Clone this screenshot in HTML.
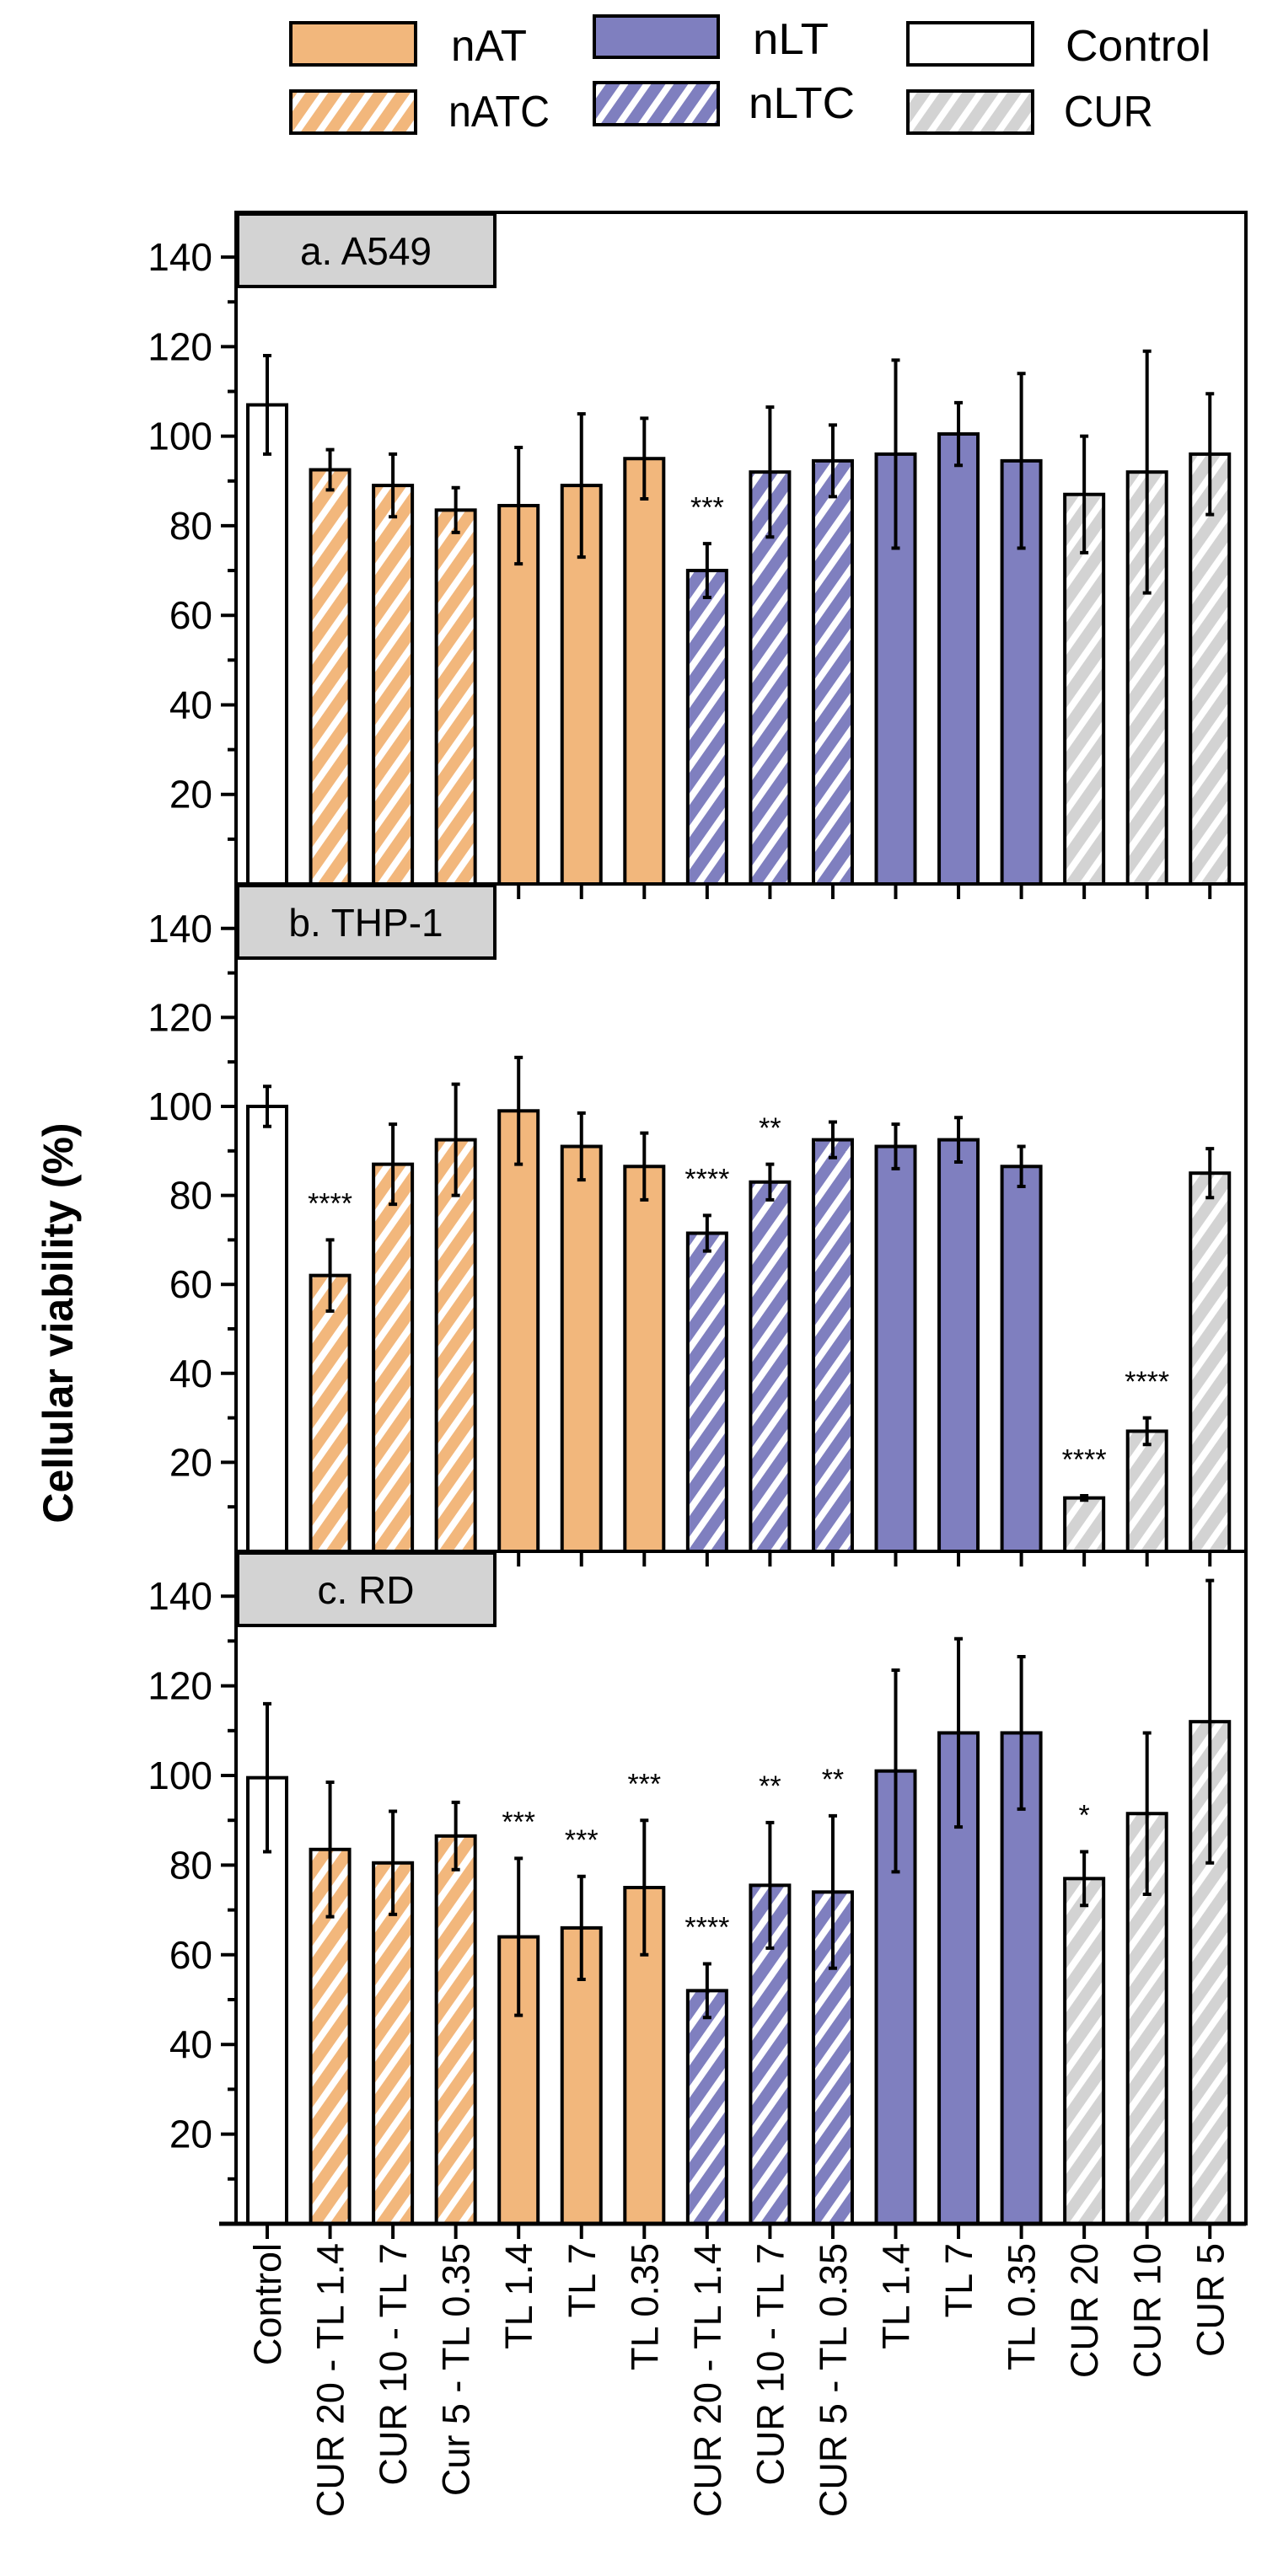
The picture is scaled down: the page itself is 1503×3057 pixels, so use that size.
<!DOCTYPE html>
<html><head><meta charset="utf-8"><style>
html,body{margin:0;padding:0;background:#fff;}
svg{display:block;font-family:"Liberation Sans",Arial,sans-serif;}
</style></head><body>
<svg id="chart" width="1503" height="3057" viewBox="0 0 1503 3057" xmlns="http://www.w3.org/2000/svg">
<defs>
<pattern id="hatchO" patternUnits="userSpaceOnUse" width="22" height="22" patternTransform="rotate(35)"><rect width="22" height="22" fill="#F2B77C"/><rect width="8" height="22" fill="#fff"/></pattern>
<pattern id="hatchP" patternUnits="userSpaceOnUse" width="22" height="22" patternTransform="rotate(35)"><rect width="22" height="22" fill="#7F7FBF"/><rect width="8" height="22" fill="#fff"/></pattern>
<pattern id="hatchG" patternUnits="userSpaceOnUse" width="22" height="22" patternTransform="rotate(35)"><rect width="22" height="22" fill="#D3D3D3"/><rect width="8" height="22" fill="#fff"/></pattern>
</defs>
<g id="legend">
<g><rect x="345" y="27" width="148" height="50" fill="#F2B77C" stroke="#000" stroke-width="4"/><text x="535" y="72" font-size="52" textLength="90" lengthAdjust="spacingAndGlyphs">nAT</text></g>
<g><rect x="705" y="19" width="147" height="49" fill="#7F7FBF" stroke="#000" stroke-width="4"/><text x="893" y="64" font-size="52" textLength="90" lengthAdjust="spacingAndGlyphs">nLT</text></g>
<g><rect x="1077" y="27" width="148" height="50" fill="#fff" stroke="#000" stroke-width="4"/><text x="1264" y="72" font-size="52" textLength="172" lengthAdjust="spacingAndGlyphs">Control</text></g>
<g><rect x="345" y="108" width="148" height="50" fill="url(#hatchO)" stroke="#000" stroke-width="4"/><text x="532" y="150" font-size="52" textLength="120" lengthAdjust="spacingAndGlyphs">nATC</text></g>
<g><rect x="705" y="98" width="147" height="50" fill="url(#hatchP)" stroke="#000" stroke-width="4"/><text x="888" y="140" font-size="52" textLength="126" lengthAdjust="spacingAndGlyphs">nLTC</text></g>
<g><rect x="1077" y="108" width="148" height="50" fill="url(#hatchG)" stroke="#000" stroke-width="4"/><text x="1262" y="150" font-size="52" textLength="106" lengthAdjust="spacingAndGlyphs">CUR</text></g>
</g>
<text x="0" y="0" transform="translate(86,1570) rotate(-90)" text-anchor="middle" font-size="50" font-weight="bold">Cellular viability (%)</text>
<g id="plots"></g>
</svg>
<script>
const categories = ["Control","CUR 20 - TL 1.4","CUR 10 - TL 7","Cur 5 - TL 0.35","TL 1.4","TL 7","TL 0.35","CUR 20 - TL 1.4","CUR 10 - TL 7","CUR 5 - TL 0.35","TL 1.4","TL 7","TL 0.35","CUR 20","CUR 10","CUR 5"];
const groups = ["ctrl","natc","natc","natc","nat","nat","nat","nltc","nltc","nltc","nlt","nlt","nlt","cur","cur","cur"];
const panelNames = ["a. A549","b. THP-1","c. RD"];
const yTicks = [20,40,60,80,100,120,140];
const valuesA = [107,92.5,89,83.5,84.5,89,95,70,92,94.5,96,100.5,94.5,87,92,96];
const errorsA = [11,4.5,7,5,13,16,9,6,14.5,8,21,7,19.5,13,27,13.5];
const starsA = ["","","","","","","","***","","","","","","","",""];
const valuesB = [100,62,87,92.5,99,91,86.5,71.5,83,92.5,91,92.5,86.5,12,27,85];
const errorsB = [4.5,8,9,12.5,12,7.5,7.5,4,4,4,5,5,4.5,0.5,3,5.5];
const starsB = ["","****","","","","","","****","**","","","","","****","****",""];
const valuesC = [99.5,83.5,80.5,86.5,64,66,75,52,75.5,74,101,109.5,109.5,77,91.5,112];
const errorsC = [16.5,15,11.5,7.5,17.5,11.5,15,6,14,17,22.5,21,17,6,18,31.5];
const starsC = ["","","","","***","***","***","****","**","**","","","","*","",""];

const NS="http://www.w3.org/2000/svg";
const plots=document.getElementById('plots');
const fills={ctrl:"#fff",nat:"#F2B77C",natc:"url(#hatchO)",nlt:"#7F7FBF",nltc:"url(#hatchP)",cur:"url(#hatchG)"};
const X0=280, X1=1478, YMAX=150;
const panels=[{top:252,bottom:1049},{top:1049,bottom:1841},{top:1841,bottom:2639}];
const dataSets=[[valuesA,errorsA,starsA],[valuesB,errorsB,starsB],[valuesC,errorsC,starsC]];
function xC(i){return 317+i*74.55;}
function mk(tag,attrs,parent){const e=document.createElementNS(NS,tag);for(const k in attrs)e.setAttribute(k,attrs[k]);(parent||plots).appendChild(e);return e;}

panels.forEach((p,pi)=>{
  const y=v=>p.bottom-(v/YMAX)*(p.bottom-p.top);
  const g=mk('g',{});
  
  
  const [vals,errs,stars]=dataSets[pi];
  vals.forEach((v,i)=>{
    const r=mk('rect',{x:xC(i)-23,y:y(v),width:46,height:p.bottom-y(v),fill:fills[groups[i]],stroke:'#000','stroke-width':4},g);
    
    
    const t=y(v+errs[i]), b=y(Math.max(0,v-errs[i]));
    const eb=mk('path',{d:`M${xC(i)} ${t}V${b}M${xC(i)-5} ${t}H${xC(i)+5}M${xC(i)-5} ${b}H${xC(i)+5}`,stroke:'#000','stroke-width':4,fill:'none'},g);
    
    
    if(stars[i]){
      const s=mk('text',{x:xC(i),y:y(v+errs[i]+6),'text-anchor':'middle','font-size':34},g);
      
      
      s.textContent=stars[i];
    }
  });
  const fr=mk('rect',{x:X0,y:p.top,width:X1-X0,height:p.bottom-p.top,fill:'none',stroke:'#000','stroke-width':4},g);
  
  
  for(let v=10;v<=140;v+=10){
    const major=v%20===0;
    mk('line',{x1:X0-(major?18:10),x2:X0,y1:y(v),y2:y(v),stroke:'#000','stroke-width':4},g);
  }
  yTicks.forEach(v=>{
    const t=mk('text',{x:252,y:y(v)+16,'text-anchor':'end','font-size':46},g);
    
    
    t.textContent=v;
  });
  categories.forEach((c,i)=>{
    if(pi>0) mk('line',{x1:xC(i),x2:xC(i),y1:p.top,y2:p.top+18,stroke:'#000','stroke-width':4},g);
    if(pi===2) mk('line',{x1:xC(i),x2:xC(i),y1:p.bottom,y2:p.bottom+18,stroke:'#000','stroke-width':4},g);
  });
  const lb=mk('rect',{x:X0+2,y:p.top+2,width:305,height:86,fill:'#D3D3D3',stroke:'#000','stroke-width':4},g);
  
  
  const lt=mk('text',{x:X0+2+152,y:p.top+62,'text-anchor':'middle','font-size':46},g);
  
  
  lt.textContent=panelNames[pi];
});
mk('line',{x1:260,x2:X1,y1:2639,y2:2639,stroke:'#000','stroke-width':5});
categories.forEach((c,i)=>{
  const t=mk('text',{x:0,y:0,transform:`translate(${xC(i)+16},2662) rotate(-90)`,'text-anchor':'end','font-size':45});
  
  
  t.textContent=c;
});
</script>
</body></html>
